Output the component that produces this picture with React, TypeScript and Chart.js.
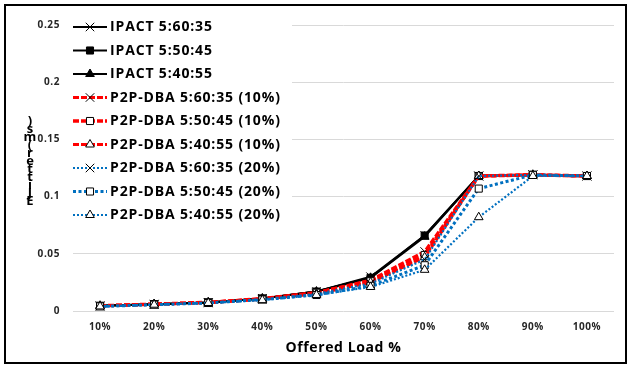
import React, { useEffect, useRef } from "react";
import { Chart, registerables } from "chart.js";
import { drawPoint } from "chart.js/helpers";

Chart.register(...registerables);

const categories = ["10%", "20%", "30%", "40%", "50%", "60%", "70%", "80%", "90%", "100%"];
const yTickLabels = ["0", "0.05", "0.1", "0.15", "0.2", "0.25"];

const ipact_60_35 = [0.0045, 0.006, 0.0075, 0.011, 0.017, 0.030, 0.066, 0.118, 0.119, 0.118];
const ipact_50_45 = [0.0045, 0.006, 0.0075, 0.011, 0.017, 0.029, 0.066, 0.118, 0.119, 0.118];
const ipact_40_55 = [0.0045, 0.006, 0.0075, 0.011, 0.017, 0.029, 0.065, 0.118, 0.119, 0.118];
const p2p10_60_35 = [0.0045, 0.006, 0.0075, 0.011, 0.016, 0.027, 0.052, 0.118, 0.119, 0.118];
const p2p10_50_45 = [0.0045, 0.006, 0.0075, 0.0105, 0.016, 0.026, 0.049, 0.118, 0.119, 0.118];
const p2p10_40_55 = [0.0045, 0.006, 0.0075, 0.0105, 0.015, 0.025, 0.047, 0.118, 0.119, 0.118];
const p2p20_60_35 = [0.004, 0.0055, 0.007, 0.010, 0.015, 0.024, 0.045, 0.118, 0.119, 0.118];
const p2p20_50_45 = [0.004, 0.0055, 0.007, 0.010, 0.014, 0.022, 0.040, 0.107, 0.119, 0.118];
const p2p20_40_55 = [0.004, 0.0055, 0.007, 0.0095, 0.014, 0.021, 0.036, 0.082, 0.118, 0.118];

const seriesNames = [
  "IPACT 5:60:35",
  "IPACT 5:50:45",
  "IPACT 5:40:55",
  "P2P-DBA 5:60:35 (10%)",
  "P2P-DBA 5:50:45 (10%)",
  "P2P-DBA 5:40:55 (10%)",
  "P2P-DBA 5:60:35 (20%)",
  "P2P-DBA 5:50:45 (20%)",
  "P2P-DBA 5:40:55 (20%)",
];
const seriesValues = [
  ipact_60_35, ipact_50_45, ipact_40_55,
  p2p10_60_35, p2p10_50_45, p2p10_40_55,
  p2p20_60_35, p2p20_50_45, p2p20_40_55,
];
const yAxisTitle = "EJitter(ms)";
const xAxisTitle = "Offered Load %";

const FONT = "'Open Sans', 'DejaVu Sans', sans-serif";
const BLACK = "#000000";
const RED = "#ff0000";
const BLUE = "#0070c0";

type Style = {
  color: string;
  width: number;
  dash: number[];
  point: string;
  fill: string;
  radius: number;
};

const styles: Style[] = [
  { color: BLACK, width: 2, dash: [], point: "crossRot", fill: BLACK, radius: 6 },
  { color: BLACK, width: 2, dash: [], point: "rect", fill: BLACK, radius: 5 },
  { color: BLACK, width: 2, dash: [], point: "triangle", fill: BLACK, radius: 5 },
  { color: RED, width: 3, dash: [6, 2], point: "crossRot", fill: "#ffffff", radius: 6 },
  { color: RED, width: 3.5, dash: [6, 2], point: "rect", fill: "#ffffff", radius: 5 },
  { color: RED, width: 3, dash: [6, 2], point: "triangle", fill: "#ffffff", radius: 5 },
  { color: BLUE, width: 2.2, dash: [2, 2], point: "crossRot", fill: "#ffffff", radius: 6 },
  { color: BLUE, width: 3, dash: [3, 2.5], point: "rect", fill: "#ffffff", radius: 5 },
  { color: BLUE, width: 2.2, dash: [2, 2], point: "triangle", fill: "#ffffff", radius: 5 },
];

const spacingPlugin = {
  id: "spacing",
  beforeDraw(chart: any) {
    chart.ctx.letterSpacing = "0.6px";
  },
};

const framePlugin = {
  id: "frame",
  afterDraw(chart: any) {
    const ctx = chart.ctx;
    ctx.save();
    ctx.strokeStyle = "#000";
    ctx.lineWidth = 2;
    ctx.strokeRect(5, 5, 621, 358);
    ctx.restore();
  },
};

const titlesPlugin = {
  id: "titles",
  afterDraw(chart: any) {
    const ctx = chart.ctx;
    ctx.save();
    ctx.fillStyle = "#000";
    ctx.font = `bold 13px ${FONT}`;
    ctx.letterSpacing = "0px";
    ctx.textAlign = "center";
    ctx.textBaseline = "middle";
    const chars = yAxisTitle.split("");
    const bottom = 201;
    const step = 8;
    for (let i = 0; i < chars.length; i++) {
      ctx.fillText(chars[i], 30, bottom - i * step);
    }
    const area = chart.chartArea;
    ctx.font = `bold 14px ${FONT}`;
    ctx.letterSpacing = "0.6px";
    ctx.fillText(xAxisTitle, (area.left + area.right) / 2, 348);
    ctx.restore();
  },
};

const legendPlugin = {
  id: "customLegend",
  afterDraw(chart: any) {
    const ctx = chart.ctx;
    ctx.save();
    ctx.fillStyle = "#ffffff";
    ctx.fillRect(70, 14, 222, 213);
    const x0 = 73;
    const x1 = 107;
    const xm = 90;
    for (let i = 0; i < seriesNames.length; i++) {
      const s = styles[i];
      const y = 27 + i * 23.5;
      ctx.save();
      ctx.strokeStyle = s.color;
      ctx.lineWidth = s.width;
      ctx.setLineDash(s.dash);
      ctx.beginPath();
      ctx.moveTo(x0, y);
      ctx.lineTo(x1, y);
      ctx.stroke();
      ctx.restore();
      ctx.save();
      ctx.fillStyle = s.fill;
      ctx.strokeStyle = BLACK;
      ctx.lineWidth = 1;
      ctx.setLineDash([]);
      drawPoint(ctx, { pointStyle: s.point, radius: s.radius, rotation: 0, borderWidth: 1 } as any, xm, y);
      ctx.restore();
      ctx.fillStyle = "#000";
      ctx.font = `bold 14px ${FONT}`;
      ctx.letterSpacing = "0.85px";
      ctx.textAlign = "left";
      ctx.textBaseline = "middle";
      ctx.fillText(seriesNames[i], 110, y + 0.5);
    }
    ctx.restore();
  },
};

export default function App() {
  const ref = useRef<HTMLCanvasElement | null>(null);
  useEffect(() => {
    if (!ref.current) return;
    const datasets = seriesValues.map((vals, i) => {
      const s = styles[i];
      return {
        label: seriesNames[i],
        data: vals,
        borderColor: s.color,
        backgroundColor: s.color,
        borderWidth: s.width,
        borderDash: s.dash,
        pointStyle: s.point,
        pointRadius: s.radius,
        pointBackgroundColor: s.fill,
        pointBorderColor: BLACK,
        pointBorderWidth: 1,
        tension: 0,
        fill: false,
        order: seriesNames.length - i,
      };
    });
    const chart = new Chart(ref.current, {
      type: "line",
      data: { labels: categories, datasets },
      options: {
        responsive: false,
        animation: false,
        layout: { padding: { top: 25, right: 16, left: 0, bottom: 0 } },
        plugins: {
          legend: { display: false },
          tooltip: { enabled: false },
        },
        scales: {
          x: {
            type: "category",
            offset: true,
            grid: { display: false, drawTicks: false },
            border: { display: false },
            ticks: {
              color: "#262626",
              font: { family: FONT, size: 10, weight: "bold" },
              padding: 10,
              maxRotation: 0,
            },
            title: { display: false },
            afterFit(scale: any) {
              scale.height = 56;
            },
          },
          y: {
            min: 0,
            max: 0.25,
            grid: { color: "#d9d9d9", lineWidth: 1, drawTicks: false },
            border: { display: false },
            ticks: {
              stepSize: 0.05,
              color: "#262626",
              font: { family: FONT, size: 10, weight: "bold" },
              padding: 13,
              callback: (_v: any, idx: number) => yTickLabels[idx],
            },
            afterFit(scale: any) {
              scale.width = 73;
            },
          },
        },
      } as any,
      plugins: [spacingPlugin, legendPlugin, titlesPlugin, framePlugin],
    });
    return () => chart.destroy();
  }, []);
  return (
    <div style={{ position: "absolute", left: 0, top: 0, width: 630, height: 367, background: "#fff" }}>
      <canvas ref={ref} width={630} height={367} style={{ display: "block" }} />
    </div>
  );
}
